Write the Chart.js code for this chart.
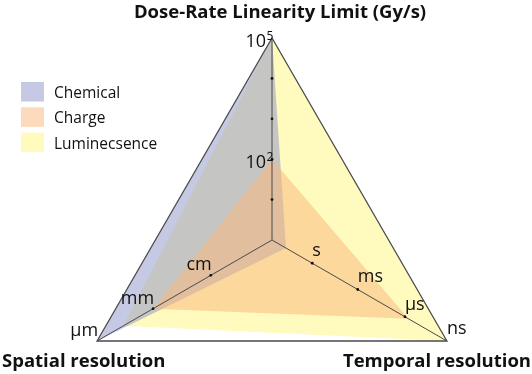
<!DOCTYPE html>
<html>
<head>
<meta charset="utf-8">
<script src="https://cdn.jsdelivr.net/npm/chart.js@4.4.0/dist/chart.umd.min.js"></script>
<style>
html, body { margin: 0; padding: 0; background: #fff; }
</style>
</head>
<body>
<canvas id="chart" width="532" height="374"></canvas>
<script>

// axes, clockwise from the top
var axisLabels = ["Dose-Rate Linearity Limit (Gy/s)", "Temporal resolution", "Spatial resolution"];
var seriesNames = ["Chemical", "Charge", "Luminecsence"];

// how far along each axis a method reaches (0 = centre, 1 = outer corner)
var chemicalValues = [1.0, 0.08, 1.0];
var chargeValues = [0.40, 0.78, 0.68];
var luminescenceValues = [1.0, 1.0, 0.85];

// tick marks on each axis ("10|5" = 10 to the power 5)
var doseTickPos = [0.2, 0.4, 0.6, 0.8, 1.0];
var doseTickLabels = ["", "10|2", "", "", "10|5"];
var temporalTickPos = [0.23, 0.49, 0.76, 1.0];
var temporalTickLabels = ["s", "ms", "µs", "ns"];
var spatialTickPos = [0.35, 0.68, 1.0];
var spatialTickLabels = ["cm", "mm", "µm"];

var axisTicks = [
    {pos: doseTickPos, labels: doseTickLabels, align: "right", dx: -6, dy: 9},
    {pos: temporalTickPos, labels: temporalTickLabels, align: "left", dx: 0, dy: -7},
    {pos: spatialTickPos, labels: spatialTickLabels, align: "right", dx: 1, dy: -5}
];

var textPlugin = {
    id: "axisText",
    afterDraw: function(chart){
        var ctx = chart.ctx;
        var r = chart.scales.r;
        var area = chart.chartArea;
        ctx.save();
        ctx.fillStyle = "#111";
        ctx.textBaseline = "alphabetic";

        axisTicks.forEach(function(ax, i){
            ax.pos.forEach(function(p, j){
                var pt = r.getPointPosition(i, r.getDistanceFromCenterForValue(p));
                if (p < 1) {
                    ctx.beginPath();
                    ctx.arc(pt.x, pt.y, 1.4, 0, Math.PI * 2);
                    ctx.fill();
                }
                var txt = ax.labels[j];
                if (!txt) return;
                var parts = txt.split("|");
                var x = pt.x + ax.dx, y = pt.y + ax.dy;
                ctx.font = "18px 'Open Sans'";
                ctx.textAlign = ax.align;
                ctx.fillText(parts[0], x, y);
                if (parts.length > 1) {
                    ctx.font = "12px 'Open Sans'";
                    ctx.textAlign = "left";
                    ctx.fillText(parts[1], x + 0.5, y - 7);
                }
            });
        });

        // axis titles
        ctx.font = "bold 18.5px 'Open Sans'";
        ctx.textAlign = "center";
        ctx.fillText(axisLabels[0], 280, area.top + 18);
        ctx.textAlign = "right";
        ctx.fillText(axisLabels[1], area.right - 1, area.bottom - 7);
        ctx.textAlign = "left";
        ctx.fillText(axisLabels[2], area.left + 2, area.bottom - 7);

        // legend
        chart.data.datasets.forEach(function(ds, k){
            var y = 82 + k * 25.3;
            ctx.fillStyle = ds.backgroundColor;
            ctx.fillRect(21, y, 23, 19.5);
            ctx.fillStyle = "#111";
            ctx.font = "15.5px 'Open Sans'";
            ctx.textAlign = "left";
            ctx.fillText(ds.label, 54, y + 16);
        });
        ctx.restore();
    }
};

function draw_chart(){
    new Chart("chart", {
        type: "radar",
        data: {
            labels: axisLabels,
            datasets: [
                {label: seriesNames[0], data: chemicalValues, backgroundColor: "rgba(139,147,201,0.5)", order: 1},
                {label: seriesNames[1], data: chargeValues, backgroundColor: "rgba(250,185,125,0.52)", order: 0},
                {label: seriesNames[2], data: luminescenceValues, backgroundColor: "rgba(255,245,125,0.5)", order: 2}
            ]
        },
        options: {
            responsive: false,
            animation: false,
            elements: {
                line: {borderWidth: 0, fill: true, tension: 0},
                point: {radius: 0, hoverRadius: 0}
            },
            plugins: {
                legend: {display: false},
                tooltip: {enabled: false}
            },
            scales: {
                r: {
                    min: 0,
                    max: 1,
                    ticks: {display: false, stepSize: 1},
                    grid: {color: "#4a4a4a", lineWidth: 1.3, z: 1},
                    angleLines: {color: "#4a4a4a", lineWidth: 1},
                    pointLabels: {display: false},
                    afterFit: function(scale){
                        scale.xCenter = 272;
                        scale.yCenter = 240;
                        scale.drawingArea = 202;
                    }
                }
            }
        },
        plugins: [textPlugin]
    });
}

draw_chart();
</script>
</body>
</html>
